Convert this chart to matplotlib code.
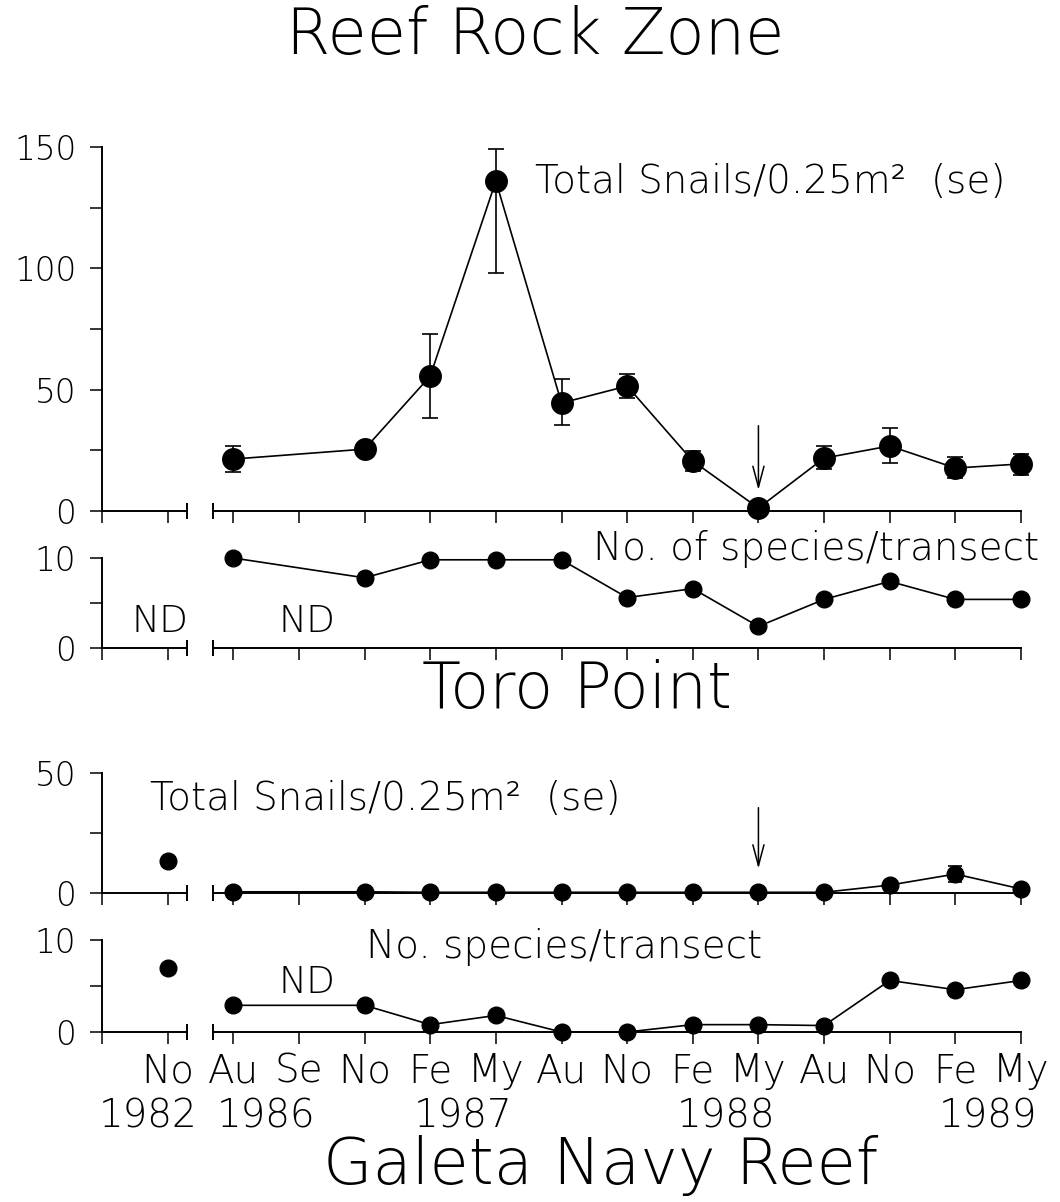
import matplotlib.pyplot as plt
import matplotlib.transforms as mtransforms

plt.rcParams['font.family'] = ['DejaVu Sans']
plt.rcParams['font.weight'] = 'light'

# x axis: Nov 1982, then Aug 1986 .. May 1989 (one step per sampling interval)
months = ["No", "Au", "Se", "No", "Fe", "My", "Au", "No", "Fe", "My", "Au", "No", "Fe", "My"]
month_x = [-1, 0, 1, 2, 3, 4, 5, 6, 7, 8, 9, 10, 11, 12]
years = ["1982", "1986", "1987", "1988", "1989"]
year_x = [-1.3, 0.5, 3.5, 7.5, 11.5]

# Reef Rock Zone
rr_x = [0, 2, 3, 4, 5, 6, 7, 8, 9, 10, 11, 12]
rr_snails = [21.4, 25.5, 55.6, 136, 44.5, 51.5, 20.6, 1.2, 21.8, 26.8, 17.7, 19.4]
rr_se_lo = [5.2, 2.5, 17.3, 37.9, 9.1, 5.0, 4.0, 0.0, 4.6, 7.0, 4.1, 4.5]
rr_se_hi = [5.2, 2.5, 17.3, 13.2, 9.9, 5.0, 4.0, 0.0, 5.0, 7.4, 4.5, 4.1]
rr_species = [10, 7.8, 9.8, 9.8, 9.8, 5.6, 6.6, 2.4, 5.4, 7.4, 5.4, 5.4]

# Toro Point (Nov 1982 point plotted alone)
tp_x82 = -1
tp_snails82 = 13.3
tp_species82 = 7.0
tp_x = [0, 2, 3, 4, 5, 6, 7, 8, 9, 10, 11, 12]
tp_snails = [0.5, 0.5, 0.3, 0.3, 0.3, 0.3, 0.3, 0.3, 0.3, 3.3, 7.9, 1.7]
tp_se = [0, 0, 0, 0, 0, 0, 0, 0, 0, 0.5, 3.3, 0.5]
tp_species = [2.9, 2.9, 0.8, 1.8, 0.0, 0.0, 0.8, 0.8, 0.7, 5.6, 4.6, 5.6]

W, H = 1060, 1202
fig = plt.figure(figsize=(W / 100, H / 100), dpi=100)

X0, X1 = 102, 1021
BRK_L, BRK_R = -0.71, -0.31


def make_axes(top, bottom):
    return fig.add_axes([X0 / W, 1 - bottom / H, (X1 - X0) / W, (bottom - top) / H])


def style(ax, ymax, major, minor, show_x=False):
    ax.set_xlim(-2, 12)
    ax.set_ylim(0, ymax)
    ax.patch.set_visible(False)
    for s in ['top', 'right']:
        ax.spines[s].set_visible(False)
    ax.spines['left'].set_linewidth(1.4)
    ax.spines['bottom'].set_linewidth(1.4)
    ax.spines['left'].set_bounds(0, ymax)
    ax.spines['bottom'].set_bounds(BRK_R, 12)
    # left piece of the broken x axis
    ax.plot([-2, BRK_L], [0, 0], color='k', lw=1.4, clip_on=False)
    ax.plot([BRK_L, BRK_R], [0, 0], ls='none', marker='|', ms=12,
            mew=1.4, color='k', clip_on=False)
    ax.set_xticks([-2] + month_x)
    if show_x:
        ax.set_xticklabels([''] + months, fontsize=28)
    else:
        ax.set_xticklabels([])
    ax.set_yticks(major)
    ax.set_yticks(minor, minor=True)
    ax.set_yticklabels([str(v) for v in major], fontsize=23.5)
    ax.tick_params(axis='both', which='both', direction='out', length=8.6,
                   width=1.1, color='k')
    ax.tick_params(axis='y', pad=10)
    ax.tick_params(axis='x', pad=6)


line_kw = dict(color='k', lw=1.2, clip_on=False)
arrow_kw = dict(arrowstyle='->,head_length=0.75,head_width=0.2',
                mutation_scale=20, lw=1.1, color='k')

# ---- Reef Rock Zone: total snails ----
ax1 = make_axes(147, 511)
style(ax1, 150, [0, 50, 100, 150], [25, 75, 125])
ax1.errorbar(rr_x, rr_snails, yerr=[rr_se_lo, rr_se_hi], fmt='-o', ms=15.5,
             capsize=6, elinewidth=1.2, capthick=1.2, **line_kw)
ax1.annotate('', xy=(8, 7.5), xytext=(8, 36.3), arrowprops=arrow_kw)
ax1.text(4.59, 135.6, 'Total Snails/0.25m²  (se)', fontsize=28, va='center', ha='left')

# ---- Reef Rock Zone: species ----
ax2 = make_axes(558, 648)
style(ax2, 10, [0, 10], [5])
ax2.plot(rr_x, rr_species, '-o', ms=12, **line_kw)
ax2.text(12.28, 11.0, 'No. of species/transect', fontsize=28, va='center', ha='right')
ax2.text(-1.12, 3.0, 'ND', fontsize=27, va='center', ha='center')
ax2.text(1.12, 3.0, 'ND', fontsize=27, va='center', ha='center')

# ---- Toro Point: total snails ----
ax3 = make_axes(773, 893)
style(ax3, 50, [0, 50], [25])
ax3.plot([tp_x82], [tp_snails82], 'o', ms=12, **line_kw)
ax3.errorbar(tp_x, tp_snails, yerr=tp_se, fmt='-o', ms=12,
             capsize=5, elinewidth=1.2, capthick=1.2, **line_kw)
ax3.annotate('', xy=(8, 9.0), xytext=(8, 36.7), arrowprops=arrow_kw)
ax3.text(-1.27, 39.2, 'Total Snails/0.25m²  (se)', fontsize=28, va='center', ha='left')

# ---- Toro Point: species ----
ax4 = make_axes(940, 1032)
style(ax4, 10, [0, 10], [5], show_x=True)
ax4.plot([tp_x82], [tp_species82], 'o', ms=12, **line_kw)
ax4.plot(tp_x, tp_species, '-o', ms=12, **line_kw)
ax4.text(5.04, 9.2, 'No. species/transect', fontsize=28, va='center', ha='center')
ax4.text(1.12, 5.4, 'ND', fontsize=27, va='center', ha='center')

trans = mtransforms.blended_transform_factory(ax4.transData, fig.transFigure)
for yr, xp in zip(years, year_x):
    fig.text(xp, 1 - 1116 / H, yr, transform=trans, fontsize=28, ha='center', va='center')

# headings
fig.text(535 / W, 1 - 36 / H, 'Reef Rock Zone', fontsize=46, ha='center', va='center')
fig.text(577 / W, 1 - 690 / H, 'Toro Point', fontsize=46, ha='center', va='center')
fig.text(601 / W, 1 - 1166 / H, 'Galeta Navy Reef', fontsize=46, ha='center', va='center')

fig.savefig('out.png', dpi=100)
